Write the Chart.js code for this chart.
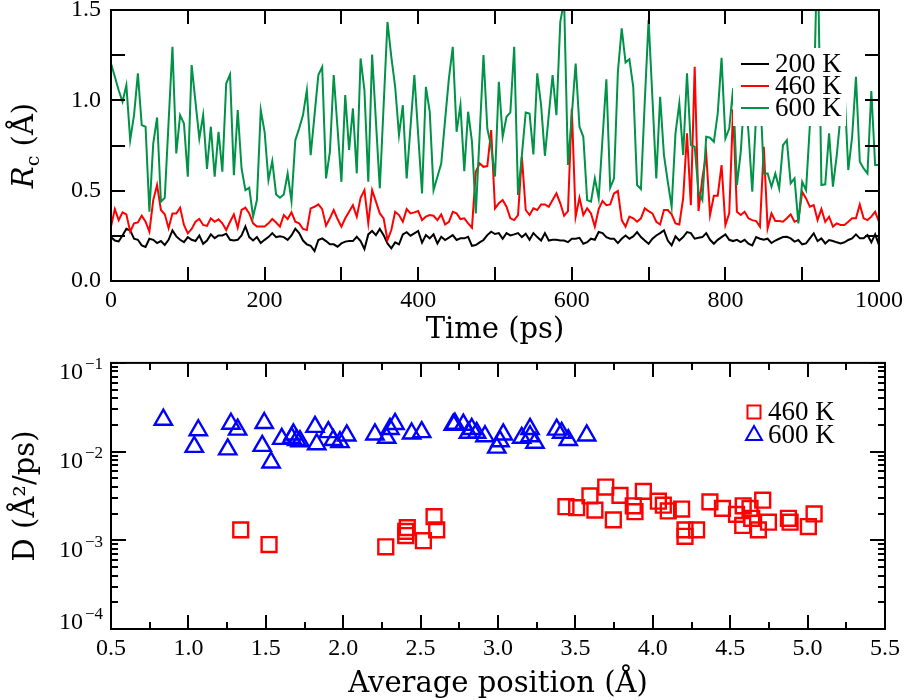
<!DOCTYPE html>
<html>
<head>
<meta charset="utf-8">
<script src="https://cdn.jsdelivr.net/npm/chart.js@4.4.1/dist/chart.umd.min.js"></script>
<style>
    body { margin: 0; background: #fff; }
    #contenedor { position: relative; width: 913px; height: 700px; background: #fff; }
    .panel { position: absolute; left: 0; width: 913px; height: 350px; }
</style>
</head>
<body>
<div id="contenedor">
    <div class="panel" style="top:0px"><canvas id="graficoRc"></canvas></div>
    <div class="panel" style="top:350px"><canvas id="graficoD"></canvas></div>
</div>
<script>
    /*      DATOS      */

    // panel superior: Rc (A) cada 5 ps, de 0 a 1000 ps
    const paso_ps = 5;
    const rc_200K = [
        0.243,0.224,0.219,0.252,0.289,0.28,0.234,0.228,0.197,0.188,0.234,0.228,0.21,0.221,0.2,0.228,0.28,0.247,0.228,0.215,0.243,0.228,0.221,0.252,0.206,0.224,
        0.258,0.237,0.252,0.252,0.262,0.228,0.224,0.228,0.252,0.302,0.243,0.224,0.243,0.21,0.228,0.243,0.265,0.243,0.247,0.243,0.228,0.252,0.289,0.265,0.224,
        0.203,0.195,0.166,0.227,0.236,0.221,0.203,0.203,0.19,0.208,0.218,0.221,0.221,0.245,0.221,0.177,0.258,0.277,0.254,0.288,0.254,0.208,0.181,0.214,0.203,
        0.258,0.27,0.251,0.264,0.277,0.212,0.254,0.236,0.258,0.208,0.245,0.227,0.24,0.254,0.227,0.236,0.236,0.245,0.195,0.199,0.214,0.227,0.254,0.273,0.26,
        0.265,0.234,0.265,0.252,0.258,0.265,0.243,0.262,0.228,0.265,0.243,0.224,0.265,0.224,0.228,0.228,0.224,0.224,0.215,0.234,0.234,0.239,0.206,0.215,0.234,
        0.228,0.271,0.265,0.243,0.234,0.234,0.21,0.234,0.252,0.234,0.247,0.271,0.243,0.224,0.206,0.234,0.252,0.265,0.28,0.224,0.197,0.247,0.224,0.243,0.271,
        0.265,0.234,0.239,0.243,0.265,0.228,0.206,0.228,0.243,0.258,0.228,0.221,0.228,0.215,0.228,0.206,0.197,0.243,0.234,0.228,0.234,0.21,0.224,0.234,0.243,
        0.245,0.236,0.218,0.227,0.203,0.208,0.236,0.264,0.221,0.236,0.208,0.227,0.221,0.214,0.208,0.214,0.227,0.236,0.258,0.236,0.236,0.254,0.214,0.258,0.199
    ];
    const rc_460K = [
        0.301,0.398,0.337,0.38,0.369,0.273,0.319,0.324,0.361,0.328,0.273,0.448,0.531,0.393,0.369,0.292,0.374,0.374,0.406,0.31,0.264,0.288,0.328,0.343,0.31,0.305,
        0.347,0.328,0.341,0.319,0.282,0.328,0.369,0.295,0.393,0.406,0.374,0.319,0.301,0.301,0.301,0.319,0.343,0.324,0.301,0.365,0.343,0.38,0.328,0.319,0.288,
        0.282,0.402,0.411,0.424,0.398,0.306,0.347,0.393,0.343,0.301,0.347,0.383,0.42,0.356,0.461,0.503,0.319,0.503,0.439,0.374,0.347,0.227,0.282,0.383,0.365,
        0.328,0.398,0.374,0.38,0.387,0.337,0.356,0.365,0.361,0.337,0.369,0.313,0.328,0.383,0.374,0.343,0.347,0.319,0.295,0.605,0.651,0.632,0.636,0.835,0.402,
        0.43,0.448,0.411,0.347,0.337,0.365,0.688,0.393,0.365,0.402,0.393,0.424,0.424,0.411,0.448,0.485,0.43,0.361,0.387,0.955,0.356,0.461,0.365,0.402,0.374,
        0.301,0.398,0.443,0.42,0.424,0.485,0.498,0.337,0.301,0.356,0.347,0.328,0.347,0.402,0.387,0.374,0.328,0.313,0.393,0.393,0.369,0.319,0.313,0.457,0.817,
        0.42,1.186,0.387,0.568,0.706,0.365,0.472,0.472,0.642,0.31,0.374,0.95,0.383,0.365,0.383,0.347,0.337,0.332,0.301,0.743,0.292,0.374,0.332,0.332,0.328,
        0.347,0.369,0.328,0.337,0.494,0.457,0.411,0.42,0.337,0.398,0.328,0.356,0.301,0.319,0.31,0.31,0.328,0.347,0.347,0.424,0.347,0.337,0.356,0.383,0.328
    ];
    const rc_600K = [
        1.204,1.13,1.056,0.992,1.084,0.78,0.918,1.149,0.863,0.854,0.383,0.761,0.905,0.439,0.461,0.881,1.296,0.706,0.918,0.872,0.577,1.195,0.992,0.789,0.918,0.62,
        0.854,0.577,0.826,0.605,1.093,1.143,0.586,0.946,0.623,0.503,0.516,0.356,0.448,0.946,0.826,0.559,0.664,0.479,0.461,0.479,0.595,0.442,0.78,0.845,0.918,
        1.056,0.697,0.918,1.14,1.185,0.568,0.715,1.14,0.844,0.549,1.029,0.725,0.955,0.596,1.232,1.056,0.549,1.254,0.881,0.513,0.973,1.434,1.241,1.075,0.808,
        0.973,0.568,0.854,1.14,0.808,0.485,1.075,0.937,0.503,0.577,0.65,0.89,1.121,1.296,0.826,0.973,0.608,0.937,0.771,0.374,0.808,1.25,0.844,0.743,0.578,
        1.103,0.798,0.909,0.933,1.296,0.476,0.697,0.933,0.927,0.701,1.149,0.973,0.693,0.918,1.14,0.918,1.434,1.55,0.642,0.918,1.204,0.854,0.798,0.448,0.439,
        0.568,0.457,0.789,1.117,0.516,0.568,1.158,1.398,1.209,1.228,1.075,0.531,0.509,0.992,1.444,1.01,0.568,1.02,0.697,0.549,0.411,0.817,0.983,0.697,1.149,
        0.752,0.743,0.494,0.448,0.798,0.793,0.771,0.927,1.235,0.789,0.844,1.066,0.531,0.715,1.047,0.826,0.494,0.918,1.066,0.595,0.595,0.522,0.595,0.513,0.752,
        0.78,0.54,0.568,0.319,0.549,0.503,0.863,0.973,1.9,0.531,0.535,0.817,0.522,0.697,0.918,1.066,0.614,0.798,1.13,0.66,0.623,0.595,1.051,0.642,0.642
    ];
    const tiempos = rc_200K.map((_, i) => i * paso_ps);

    // panel inferior: coeficiente de difusion frente a posicion media
    const pos_460K = [1.338,1.521,2.275,2.404,2.414,2.404,2.518,2.587,2.604,
        3.439,3.508,3.594,3.626,3.696,3.745,3.788,3.874,3.885,3.939,4.036,4.068,4.1,4.186,4.208,4.208,4.283,
        4.369,4.45,4.541,4.584,4.581,4.628,4.639,4.71,4.682,4.747,4.876,4.887,5.005,5.042];
    const D_460K = [0.00131,0.000895,0.000844,0.00126,0.00139,0.00113,0.00099,0.00185,0.00131,
        0.00239,0.00233,0.00316,0.00219,0.00398,0.0017,0.00321,0.00245,0.0021,0.00356,0.00276,0.00249,0.00214,0.00225,0.00131,0.00111,0.00131,
        0.00271,0.00229,0.00196,0.00245,0.00147,0.00229,0.00177,0.00283,0.00131,0.0016,0.00177,0.0016,0.00143,0.00198];
    const pos_600K = [0.838,1.064,1.038,1.254,1.275,1.318,1.49,1.477,1.534,1.603,1.667,1.7,1.721,1.678,1.818,1.829,1.904,1.936,1.979,2.023,
        2.205,2.281,2.302,2.335,2.442,2.507,2.711,2.722,2.776,2.83,2.809,2.862,2.916,2.992,3.013,3.034,3.153,3.207,3.207,3.239,
        3.379,3.411,3.454,3.573];
    const D_600K = [0.0229,0.0174,0.0113,0.0106,0.0206,0.0177,0.021,0.0116,0.00755,0.0139,0.0143,0.0135,0.0131,0.0156,0.019,0.0121,0.0166,0.0135,0.0128,0.0152,
        0.0156,0.0143,0.018,0.0205,0.016,0.0166,0.0201,0.0206,0.0201,0.018,0.0163,0.0163,0.0149,0.0111,0.0131,0.0156,0.0143,0.018,0.0149,0.0126,
        0.0177,0.0163,0.0135,0.0152];

    const exponentesD = [-1, -2, -3, -4];

    /*      ESTILO      */
    const fuenteNum = '"Liberation Serif", "Times New Roman", serif';
    const fuenteTit = '"DejaVu Serif", serif';
    Chart.defaults.font.family = fuenteNum;
    Chart.defaults.color = '#000';
    const fTick = {family: fuenteNum, size: 24, lineHeight: 0.8};

    const ROJO = '#ff0000', VERDE = '#009246', AZUL = '#0000ff';

    // marco negro con marcas hacia dentro en los cuatro lados
    const marcoConTicks = {
        id: 'marcoConTicks',
        afterDraw(chart, args, o) {
            const ctx = chart.ctx, a = chart.chartArea, sx = chart.scales.x, sy = chart.scales.y;
            ctx.save();
            ctx.strokeStyle = '#000';
            ctx.lineWidth = 2;
            ctx.beginPath();
            o.xTicks.forEach(t => {
                const px = Math.round(sx.getPixelForValue(t[0]));
                ctx.moveTo(px, a.top); ctx.lineTo(px, a.top + t[1]);
                ctx.moveTo(px, a.bottom); ctx.lineTo(px, a.bottom - t[1]);
            });
            o.yTicks.forEach(t => {
                const py = Math.round(sy.getPixelForValue(t[0]));
                ctx.moveTo(a.left, py); ctx.lineTo(a.left + t[1], py);
                ctx.moveTo(a.right, py); ctx.lineTo(a.right - t[1], py);
            });
            ctx.stroke();
            ctx.strokeRect(a.left, a.top, a.right - a.left, a.bottom - a.top);
            ctx.restore();
        }
    };

    // leyenda propia (caja blanca que tapa las curvas, como en la figura)
    const leyendaCaja = {
        id: 'leyendaCaja',
        afterDatasetsDraw(chart, args, o) {
            const ctx = chart.ctx;
            ctx.save();
            if (o.caja) {
                ctx.fillStyle = '#fff';
                ctx.fillRect(o.caja[0], o.caja[1], o.caja[2], o.caja[3]);
            }
            ctx.font = o.font;
            ctx.textBaseline = 'middle';
            ctx.textAlign = 'left';
            chart.data.datasets.forEach((ds, n) => {
                const y = o.y0 + n * o.dy;
                ctx.strokeStyle = ds.borderColor;
                ctx.lineWidth = 2;
                ctx.beginPath();
                if (o.tipo === 'linea') {
                    ctx.moveTo(o.x0, y); ctx.lineTo(o.x0 + 28, y);
                } else if (ds.pointStyle === 'rect') {
                    ctx.rect(o.x0 - 6.5, y - 6.5, 13, 13);
                } else {
                    ctx.moveTo(o.x0, y - 9); ctx.lineTo(o.x0 + 8, y + 5); ctx.lineTo(o.x0 - 8, y + 5); ctx.closePath();
                }
                ctx.stroke();
                ctx.fillStyle = '#000';
                ctx.fillText(ds.label, o.xt, y + 1);
            });
            ctx.restore();
        }
    };

    // titulo del eje y superior: R_c (A) con subindice
    const tituloRc = {
        id: 'tituloRc',
        afterDraw(chart) {
            const ctx = chart.ctx, a = chart.chartArea;
            ctx.save();
            ctx.translate(33, (a.top + a.bottom) / 2);
            ctx.rotate(-Math.PI / 2);
            ctx.fillStyle = '#000';
            ctx.textBaseline = 'alphabetic';
            const fR = 'italic 29px ' + fuenteTit, fc = '19px ' + fuenteTit, fA = '29px ' + fuenteTit;
            ctx.font = fR; const wR = ctx.measureText('R').width;
            ctx.font = fc; const wc = ctx.measureText('c').width;
            ctx.font = fA; const wA = ctx.measureText(' (Å)').width;
            let x = -(wR + wc + wA) / 2;
            ctx.font = fR; ctx.fillText('R', x, 0); x += wR;
            ctx.font = fc; ctx.fillText('c', x, 6); x += wc;
            ctx.font = fA; ctx.fillText(' (Å)', x, 0);
            ctx.restore();
        }
    };

    // etiquetas 10^n del eje logaritmico
    const etiquetasLog = {
        id: 'etiquetasLog',
        afterDraw(chart) {
            const ctx = chart.ctx, sy = chart.scales.y;
            ctx.save();
            ctx.fillStyle = '#000';
            ctx.textBaseline = 'middle';
            exponentesD.forEach(e => {
                const py = sy.getPixelForValue(Math.pow(10, e)) + (e === -4 ? -7 : 9);
                ctx.font = '24px ' + fuenteNum;
                ctx.textAlign = 'right';
                ctx.fillText('10', 83, py + 1);
                ctx.font = '17px ' + fuenteNum;
                ctx.textAlign = 'left';
                ctx.fillText('\u2212' + Math.abs(e), 85, py - 7);
            });
            ctx.restore();
        }
    };

    /*      PANEL SUPERIOR      */
    const ticksXsup = [];
    for (let t = 0; t <= 1000; t += 100) ticksXsup.push([t, 14]);
    const ticksYsup = [];
    for (let v = 0; v <= 1.5001; v += 0.25) ticksYsup.push([v, 14]);

    function serie(xs, ys) { return ys.map((y, i) => ({x: xs[i], y: y})); }

    new Chart(document.getElementById('graficoRc'), {
        type: 'line',
        data: {
            datasets: [
                {label: '200 K', data: serie(tiempos, rc_200K), borderColor: '#000', order: 2},
                {label: '460 K', data: serie(tiempos, rc_460K), borderColor: ROJO, order: 1},
                {label: '600 K', data: serie(tiempos, rc_600K), borderColor: VERDE, order: 0}
            ]
        },
        options: {
            responsive: true,
            maintainAspectRatio: false,
            animation: false,
            devicePixelRatio: 1,
            elements: {
                line: {borderWidth: 2, tension: 0, fill: false},
                point: {radius: 0}
            },
            layout: {padding: {left: 0, right: 27, top: 10, bottom: 0}},
            scales: {
                x: {
                    type: 'linear', min: 0, max: 1000,
                    grid: {display: false, drawTicks: false}, border: {display: false},
                    ticks: {stepSize: 200, padding: 10, font: fTick, callback: v => String(v)},
                    title: {display: true, text: 'Time (ps)', font: {family: fuenteTit, size: 29, lineHeight: 1}, padding: {top: 0, bottom: 5}},
                    afterFit: s => { s.height = 69; }
                },
                y: {
                    min: 0, max: 1.5,
                    grid: {display: false, drawTicks: false}, border: {display: false},
                    ticks: {stepSize: 0.5, padding: 10, font: fTick, callback: v => v.toFixed(1)},
                    afterFit: s => { s.width = 111; s.paddingTop = 0; s.paddingBottom = 0; }
                }
            },
            plugins: {
                legend: {display: false},
                tooltip: {enabled: false},
                marcoConTicks: {xTicks: ticksXsup, yTicks: ticksYsup},
                leyendaCaja: {tipo: 'linea', caja: [733, 48, 113, 78], x0: 741, xt: 775, y0: 64, dy: 22, font: '27px ' + fuenteNum}
            }
        },
        plugins: [leyendaCaja, marcoConTicks, tituloRc]
    });

    /*      PANEL INFERIOR      */
    const ticksXinf = [];
    for (let i = 0; i <= 20; i++) ticksXinf.push([0.5 + 0.25 * i, i % 2 === 0 ? 14 : 7]);
    const ticksYinf = [];
    for (let e = -4; e <= -2; e++) {
        for (let m = 1; m <= 9; m++) ticksYinf.push([m * Math.pow(10, e), m === 1 ? 15 : 7]);
    }
    ticksYinf.push([0.1, 15]);

    new Chart(document.getElementById('graficoD'), {
        type: 'scatter',
        data: {
            datasets: [
                {label: '460 K', data: serie(pos_460K, D_460K), borderColor: ROJO, backgroundColor: 'rgba(0,0,0,0)',
                 pointStyle: 'rect', pointRadius: 10.5, borderWidth: 2.4},
                {label: '600 K', data: serie(pos_600K, D_600K), borderColor: AZUL, backgroundColor: 'rgba(0,0,0,0)',
                 pointStyle: 'triangle', pointRadius: 10, borderWidth: 2.4}
            ]
        },
        options: {
            responsive: true,
            maintainAspectRatio: false,
            animation: false,
            devicePixelRatio: 1,
            layout: {padding: {left: 0, right: 28, top: 9, bottom: 0}},
            scales: {
                x: {
                    type: 'linear', min: 0.5, max: 5.5,
                    grid: {display: false, drawTicks: false}, border: {display: false},
                    ticks: {stepSize: 0.5, padding: 10, font: fTick, callback: v => v.toFixed(1)},
                    title: {display: true, text: 'Average position (Å)', font: {family: fuenteTit, size: 29, lineHeight: 1}, padding: {top: 0, bottom: 1}},
                    afterFit: s => { s.height = 71; }
                },
                y: {
                    type: 'logarithmic', min: 1e-4, max: 1e-1,
                    grid: {display: false, drawTicks: false}, border: {display: false},
                    ticks: {display: false},
                    title: {display: true, text: 'D (Å²/ps)', font: {family: fuenteTit, size: 29, lineHeight: 1}, padding: {top: 12, bottom: 0}},
                    afterFit: s => { s.width = 111; s.paddingTop = 0; s.paddingBottom = 0; }
                }
            },
            plugins: {
                legend: {display: false},
                tooltip: {enabled: false},
                marcoConTicks: {xTicks: ticksXinf, yTicks: ticksYinf},
                leyendaCaja: {tipo: 'marca', x0: 754, xt: 768, y0: 62, dy: 23, font: '27px ' + fuenteNum}
            }
        },
        plugins: [leyendaCaja, marcoConTicks, etiquetasLog]
    });
</script>
</body>
</html>
